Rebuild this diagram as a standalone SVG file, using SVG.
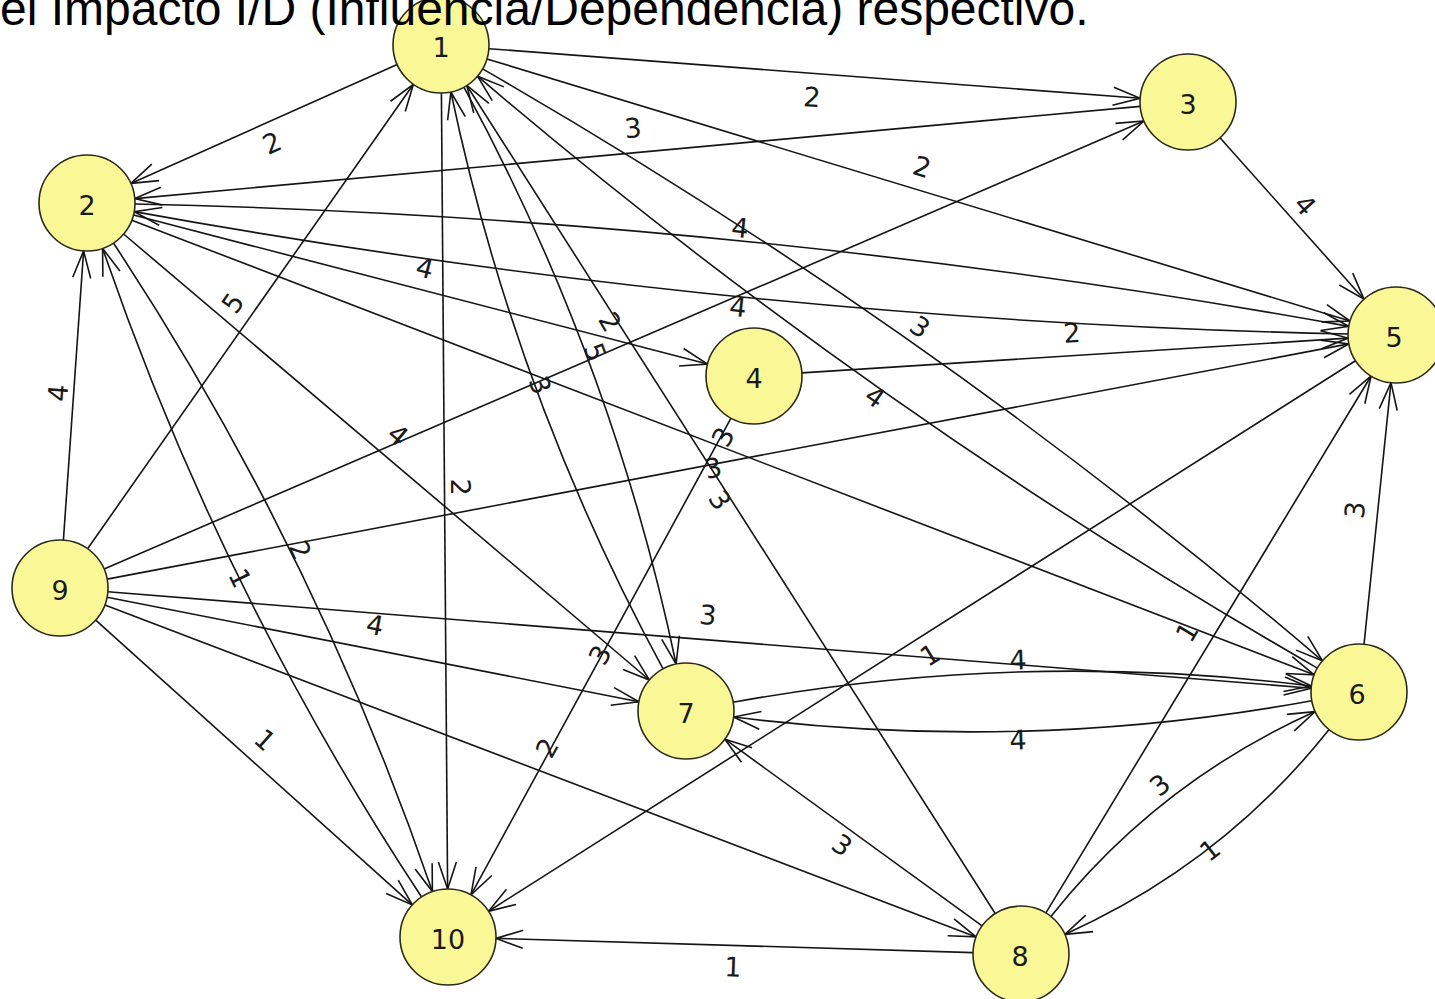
<svg xmlns="http://www.w3.org/2000/svg" width="1435" height="999" viewBox="0 0 1435 999">
  <style>
    .e { fill: none; stroke: #141414; stroke-width: 1.6; marker-end: url(#arrow); }
    .lbl { font-family: "DejaVu Sans", sans-serif; font-size: 27px; fill: #1a1a1a; text-anchor: middle; dominant-baseline: central; }
    .node circle { fill: #faf796; stroke: #2a2a1a; stroke-width: 1.6; }
    .node text { font-family: "DejaVu Sans", sans-serif; font-size: 27px; fill: #1a1a1a; text-anchor: middle; dominant-baseline: central; }
    .title { font-family: "Liberation Sans", Arial, sans-serif; font-size: 48px; fill: #000; }
  </style>
  <defs>
    <marker id="arrow" markerUnits="userSpaceOnUse" viewBox="-30 -12 32 24" markerWidth="32" markerHeight="24" refX="0" refY="0" orient="auto" overflow="visible">
      <path d="M-27,-9 L0,0 L-27,9" fill="none" stroke="#141414" stroke-width="1.6"/>
    </marker>
  </defs>
  <rect width="1435" height="999" fill="#ffffff"/>

  <!-- directed connectors -->
  <g id="connectors">
    <path class="e" d="M397.2,64.6 L130.8,183.4"/>
    <path class="e" d="M488.9,48.7 L1140.1,98.3"/>
    <path class="e" d="M1140.2,106.4 L134.8,198.6"/>
    <path class="e" d="M486.9,58.9 L1350.1,321.1"/>
    <path class="e" d="M1220,137.8 L1364,299.2"/>
    <path class="e" d="M133.5,215 L707.5,364"/>
    <path class="e" d="M801.9,372.9 L1348.1,338.1"/>
    <path class="e" d="M87.6,548.7 L413.4,84.3"/>
    <path class="e" d="M104.1,569 L1143.9,121"/>
    <path class="e" d="M63.4,540.1 L83.6,250.9"/>
    <path class="e" d="M95.7,620.1 L412.3,904.9"/>
    <path class="e" d="M107.1,597.3 L638.9,701.7"/>
    <path class="e" d="M107.8,591.8 L1311.2,688.2"/>
    <path class="e" d="M104.9,605.1 L976.1,936.9"/>
    <path class="e" d="M107.2,579.1 L1348.8,343.9"/>
    <path class="e" d="M123.6,234 L649.4,680"/>
    <path class="e" d="M131.8,220.2 L1314.2,674.8"/>
    <path class="e" d="M995.2,913.5 L466.8,85.5"/>
    <path class="e" d="M441.4,93 L447.6,889"/>
    <path class="e" d="M731,418.1 L471,894.9"/>
    <path class="e" d="M1355.5,360.7 L488.5,911.3"/>
    <path class="e" d="M973,952.6 L496,938.4"/>
    <path class="e" d="M1045.9,912.9 L1371.1,376"/>
    <path class="e" d="M1364,644.3 L1391,382.7"/>
    <path class="e" d="M982.1,925.8 L724.9,739.2"/>
    <!-- reciprocal pairs, bowed apart -->
    <path class="e" d="M463.9,87.2 Q612.3,360 676.1,664"/>
    <path class="e" d="M663.1,668.8 Q514.7,396 450.9,92"/>
    <path class="e" d="M482.6,68.9 Q930,326 1322.5,660.8"/>
    <path class="e" d="M1317.4,668.1 Q870,411 477.5,76.2"/>
    <path class="e" d="M135,204 Q746.7,217.3 1348.8,326.4"/>
    <path class="e" d="M1348,334 Q736.3,320.7 134.2,211.6"/>
    <path class="e" d="M113.4,243 Q314.2,547 432.4,891.6"/>
    <path class="e" d="M421.6,897 Q220.8,593 102.6,248.4"/>
    <path class="e" d="M733.2,702.3 Q1021,649.5 1311.4,686"/>
    <path class="e" d="M1311.8,700.7 Q1024,753.5 733.6,717"/>
    <path class="e" d="M1329.1,729.6 Q1221.9,864.1 1064.8,934.4"/>
    <path class="e" d="M1050.9,916.4 Q1158.1,781.9 1315.2,711.6"/>
  </g>

  <!-- connector weights -->
  <g id="connector-labels">
    <text class="lbl" transform="translate(272,143) rotate(-24)">2</text>
    <text class="lbl" transform="translate(812,97) rotate(4)">2</text>
    <text class="lbl" transform="translate(633,128) rotate(-5)">3</text>
    <text class="lbl" transform="translate(922,167) rotate(17)">2</text>
    <text class="lbl" transform="translate(1305,205) rotate(48)">4</text>
    <text class="lbl" transform="translate(740,228) rotate(6)">4</text>
    <text class="lbl" transform="translate(425,268) rotate(14)">4</text>
    <text class="lbl" transform="translate(738,307) rotate(6)">4</text>
    <text class="lbl" transform="translate(1072,333) rotate(-4)">2</text>
    <text class="lbl" transform="translate(920,327) rotate(35)">3</text>
    <text class="lbl" transform="translate(875,397) rotate(35)">4</text>
    <text class="lbl" transform="translate(233,303) rotate(-55)">5</text>
    <text class="lbl" transform="translate(610,322) rotate(60)">2</text>
    <text class="lbl" transform="translate(595,352) rotate(70)">5</text>
    <text class="lbl" transform="translate(540,385) rotate(70)">3</text>
    <text class="lbl" transform="translate(398,435) rotate(40)">4</text>
    <text class="lbl" transform="translate(723,437) rotate(-61)">3</text>
    <text class="lbl" transform="translate(713,468) rotate(-11)">3</text>
    <text class="lbl" transform="translate(720,500) rotate(57)">3</text>
    <text class="lbl" transform="translate(460,487) rotate(90)">2</text>
    <text class="lbl" transform="translate(58,393) rotate(-86)">4</text>
    <text class="lbl" transform="translate(240,578) rotate(64)">1</text>
    <text class="lbl" transform="translate(300,550) rotate(64)">2</text>
    <text class="lbl" transform="translate(375,625) rotate(11)">4</text>
    <text class="lbl" transform="translate(708,615) rotate(5)">3</text>
    <text class="lbl" transform="translate(265,740) rotate(42)">1</text>
    <text class="lbl" transform="translate(600,655) rotate(-61)">3</text>
    <text class="lbl" transform="translate(547,748) rotate(-61)">2</text>
    <text class="lbl" transform="translate(930,655) rotate(-32)">1</text>
    <text class="lbl" transform="translate(1018,660) rotate(-2)">4</text>
    <text class="lbl" transform="translate(1018,740) rotate(-2)">4</text>
    <text class="lbl" transform="translate(1187,632) rotate(-59)">1</text>
    <text class="lbl" transform="translate(1355,510) rotate(-84)">3</text>
    <text class="lbl" transform="translate(1160,785) rotate(-38)">3</text>
    <text class="lbl" transform="translate(1210,850) rotate(-38)">1</text>
    <text class="lbl" transform="translate(842,845) rotate(36)">3</text>
    <text class="lbl" transform="translate(733,967) rotate(2)">1</text>
  </g>

  <!-- variables -->
  <g id="node-1" class="node"><circle cx="441" cy="45" r="48"/><text x="441" y="47">1</text></g>
  <g id="node-2" class="node"><circle cx="87" cy="203" r="48"/><text x="87" y="205">2</text></g>
  <g id="node-3" class="node"><circle cx="1188" cy="102" r="48"/><text x="1188" y="104">3</text></g>
  <g id="node-4" class="node"><circle cx="754" cy="376" r="48"/><text x="754" y="378">4</text></g>
  <g id="node-5" class="node"><circle cx="1396" cy="335" r="48"/><text x="1394" y="337">5</text></g>
  <g id="node-6" class="node"><circle cx="1359" cy="692" r="48"/><text x="1357" y="694">6</text></g>
  <g id="node-7" class="node"><circle cx="686" cy="711" r="48"/><text x="686" y="713">7</text></g>
  <g id="node-8" class="node"><circle cx="1021" cy="954" r="48"/><text x="1020" y="956">8</text></g>
  <g id="node-9" class="node"><circle cx="60" cy="588" r="48"/><text x="60" y="590">9</text></g>
  <g id="node-10" class="node"><circle cx="448" cy="937" r="48"/><text x="448" y="939">10</text></g>

  <text class="title" x="0" y="25">el Impacto I/D (Influencia/Dependencia) respectivo.</text>
</svg>
